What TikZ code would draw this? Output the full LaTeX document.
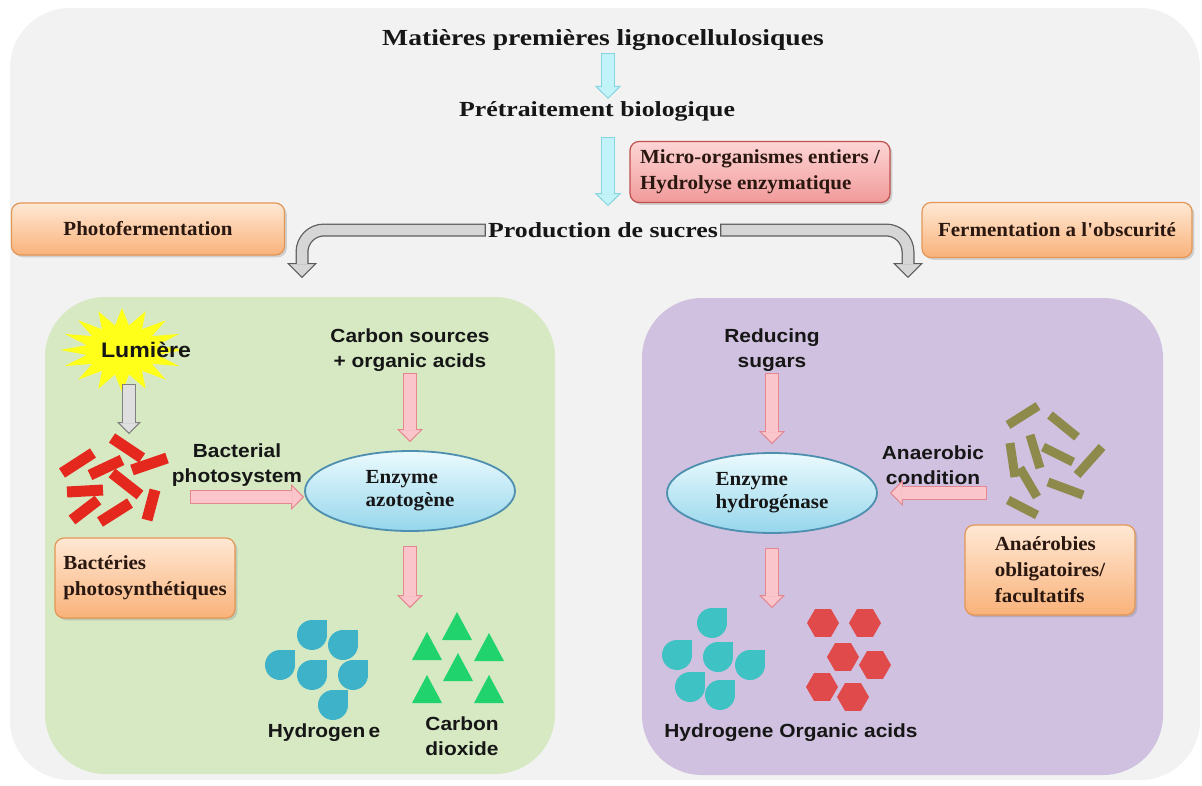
\documentclass[tikz,border=0pt]{standalone}
\usepackage{fontspec}
\setmainfont{Liberation Serif}
\newfontfamily\hdrfont[FakeStretch=1.2]{Liberation Serif}
\newfontfamily\boxfont[FakeStretch=1.05]{Liberation Serif}
\newfontfamily\labfont[FakeStretch=1.1]{Liberation Sans}
\usetikzlibrary{arrows.meta,shapes.geometric,shadows}

\definecolor{bggray}{HTML}{F2F2F2}
\definecolor{panelgreen}{HTML}{D6E9C3}
\definecolor{panelpurple}{HTML}{CFC1DF}
\definecolor{inkdark}{HTML}{161616}
\definecolor{inkbrown}{HTML}{2A1810}
\definecolor{orangetop}{HTML}{FFE8D4}
\definecolor{orangebot}{HTML}{F9B27A}
\definecolor{orangeline}{HTML}{E39655}
\definecolor{redtop}{HTML}{FDD6D6}
\definecolor{redbot}{HTML}{F19999}
\definecolor{redline}{HTML}{C0504D}
\definecolor{enztop}{HTML}{EAFAFD}
\definecolor{enzbot}{HTML}{96D6EC}
\definecolor{enzline}{HTML}{4E8FB0}
\definecolor{pinkfill}{HTML}{FAC6CB}
\definecolor{pinkline}{HTML}{E5878F}
\definecolor{cyanfill}{HTML}{C2F3F8}
\definecolor{cyanline}{HTML}{86D5DF}
\definecolor{tubefill}{HTML}{D6D6D6}
\definecolor{tubeline}{HTML}{5C5C5C}
\definecolor{sunyellow}{HTML}{FFFF1A}
\definecolor{rodred}{HTML}{E5281D}
\definecolor{rodolive}{HTML}{8E8A4C}
\definecolor{dropblue}{HTML}{3DB2C8}
\definecolor{dropteal}{HTML}{3EC2C4}
\definecolor{trigreen}{HTML}{21D36C}
\definecolor{hexred}{HTML}{E04A4A}

\tikzset{
  hdr/.style={font=\hdrfont\bfseries\fontsize{21.5}{26}\selectfont, text=inkdark, inner sep=2pt},
  lab/.style={font=\labfont\bfseries\fontsize{19}{25}\selectfont, text=inkdark, align=center, inner sep=1pt},
  obox/.style={draw=orangeline, line width=1.2pt, rounded corners=9pt,
    top color=orangetop, bottom color=orangebot, text=inkbrown, align=left,
    font=\boxfont\bfseries\fontsize{20}{26}\selectfont, drop shadow={opacity=0.3}},
  rbox/.style={obox, draw=redline, top color=redtop, bottom color=redbot},
  enz/.style={ellipse, draw=enzline, line width=1.8pt, top color=enztop, bottom color=enzbot,
    minimum width=210pt, minimum height=80pt, align=left, text=inkdark,
    font=\boxfont\bfseries\fontsize{20}{23}\selectfont},
  blockarrow/.style 2 args={draw=#2, line width=14pt,
    -{Triangle[length=13pt,width=26pt,line width=1pt,fill=#1]},
    postaction={draw=#1, line width=11.5pt, -, shorten >=12pt, shorten <=1.2pt}},
  pinkarrow/.style={blockarrow={pinkfill}{pinkline}},
  cyanarrow/.style={blockarrow={cyanfill}{cyanline}},
  lumarrow/.style={draw=gray, line width=14pt,
    -{Triangle[length=12pt,width=24pt,line width=1pt,fill=gray!25]},
    postaction={draw=gray!25, line width=11.5pt, -, shorten >=11pt, shorten <=1.2pt}},
  benttube/.style={draw=tubeline, line width=13pt, rounded corners=22pt,
    -{Triangle[length=15pt,width=30pt,line width=1pt,fill=tubefill]},
    postaction={draw=tubefill, line width=10.5pt, -, shorten >=14pt, shorten <=1.2pt}}
}

\begin{document}
\begin{tikzpicture}[x=1pt,y=-1pt]
  \useasboundingbox (0,0) rectangle (1202,785);
  \fill[white] (0,0) rectangle (1202,785);
  \fill[bggray, rounded corners=60pt] (10,8) rectangle (1200,780);
  \fill[panelgreen, rounded corners=60pt] (45,297) rectangle (555,774);
  \fill[panelpurple, rounded corners=60pt] (642,298) rectangle (1163,775);

  % top of the chain
  \node[hdr, font=\hdrfont\bfseries\fontsize{23}{26}\selectfont] (raw) at (603,40) {Matières premières lignocellulosiques};
  \node[hdr] (pre) at (597,111) {Prétraitement biologique};
  \node[hdr] (sug) at (603,230) {Production de sucres};
  \node[rbox, minimum width=260pt, minimum height=61pt] (micro) at (760,172) {Micro-organismes entiers /\\Hydrolyse enzymatique};
  \node[obox, align=center, minimum width=273pt, minimum height=52pt] (photo) at (148,229) {Photofermentation};
  \node[obox, align=center, minimum width=270pt, minimum height=55pt] (dark) at (1057,230) {Fermentation a l'obscurité};

  \draw[cyanarrow] ([xshift=5pt]raw.south) -- ([xshift=11pt]pre.north);
  \draw[cyanarrow] ([xshift=11pt,yshift=-14pt]pre.south) -- ([xshift=5pt,yshift=14pt]sug.north);

  \coordinate (tipL) at (302,278);
  \coordinate (tipR) at (908,278);
  \draw[benttube] (sug.west) -| (tipL);
  \draw[benttube] (sug.east) -| (tipR);

  % photofermentation
  \fill[sunyellow] plot[samples at={0,...,31}, variable=\k]
    ({122+(62-26*mod(\k,2))*cos(\k*11.25)}, {350+(42-17*mod(\k,2))*sin(\k*11.25)}) -- cycle;
  \node[lab, font=\labfont\bfseries\fontsize{21}{25}\selectfont] (lum) at (146,350) {Lumière};
  \foreach \xa/\ya/\xb/\yb in {112/438/142/458, 132/470/167/458, 62/473/93/453, 90/475/122/460,
      112/473/140/495, 67/492/103/490, 72/520/98/500, 100/522/130/503, 147/520/155/490}
    \draw[rodred, line width=11pt] (\xa,\ya) -- (\xb,\yb);
  \coordinate (rodsL) at (129,434);
  \draw[lumarrow] ([xshift=-17pt,yshift=-25pt]lum.south) -- (rodsL);

  \node[lab] (bps) at (237,465) {Bacterial\\photosystem};
  \node[lab] (csrc) at (410,350) {Carbon sources\\+ organic acids};
  \node[enz] (azo) at (410,491) {Enzyme\\azotogène};
  \node[obox, minimum width=180pt, minimum height=80pt] (bact) at (145,578) {Bactéries\\photosynthétiques};

  \coordinate (bpsL) at (190,497);
  \coordinate (prodL) at (410,608);
  \draw[pinkarrow] (bpsL) -- ([yshift=-6pt]azo.west);
  \draw[pinkarrow] (csrc.south) -- ([yshift=8pt]azo.north);
  \draw[pinkarrow] ([yshift=-14pt]azo.south) -- (prodL);

  \foreach \x/\y in {312/635, 343/645, 280/665, 312/675, 353/675, 333/705}{
    \fill[dropblue] (\x,\y) circle[radius=15pt];
    \fill[dropblue] (\x,\y) rectangle ++(15,-15);
  }
  \foreach \x/\y in {457/627, 427/647, 489/648, 458/668, 427/690, 489/690}
    \fill[trigreen] (\x,\y) ++(-15,13) -- ++(30,0) -- ++(-15,-28) -- cycle;
  \node[lab] (h2L) at (324,733) {Hydrogen\,e};
  \node[lab] (co2) at (462,736) {Carbon\\dioxide};

  % dark fermentation
  \node[lab] (rsug) at (772,350) {Reducing\\sugars};
  \node[enz] (hyd) at (772,493) {Enzyme\\hydrogénase};
  \node[lab] (anc) at (933,465) {Anaerobic\\condition};
  \foreach \xa/\ya/\xb/\yb in {1008/425/1038/406, 1050/415/1077/437, 1010/443/1015/477,
      1030/435/1040/468, 1043/447/1073/462, 1102/447/1077/475, 1020/468/1037/497,
      1048/482/1083/495, 1008/500/1037/515}
    \draw[rodolive, line width=9pt] (\xa,\ya) -- (\xb,\yb);
  \node[obox, minimum width=170pt, minimum height=90pt] (anaer) at (1050,570) {Anaérobies\\obligatoires/\\facultatifs};

  \coordinate (rodsR) at (987,493);
  \coordinate (prodR) at (772,608);
  \draw[pinkarrow] (rsug.south) -- ([yshift=8pt]hyd.north);
  \draw[pinkarrow] (rodsR) -- ([xshift=12pt]hyd.east);
  \draw[pinkarrow] ([yshift=-14pt]hyd.south) -- (prodR);

  \foreach \x/\y in {712/623, 677/655, 718/657, 750/665, 690/687, 720/695}{
    \fill[dropteal] (\x,\y) circle[radius=15pt];
    \fill[dropteal] (\x,\y) rectangle ++(15,-15);
  }
  \foreach \x/\y in {823/623, 865/623, 843/657, 875/665, 822/687, 853/697}
    \fill[hexred] (\x,\y) +(0:16) -- +(60:16) -- +(120:16) -- +(180:16) -- +(240:16) -- +(300:16) -- cycle;
  \node[lab] (prodtxt) at (791,733) {Hydrogene Organic acids};
\end{tikzpicture}
\end{document}
